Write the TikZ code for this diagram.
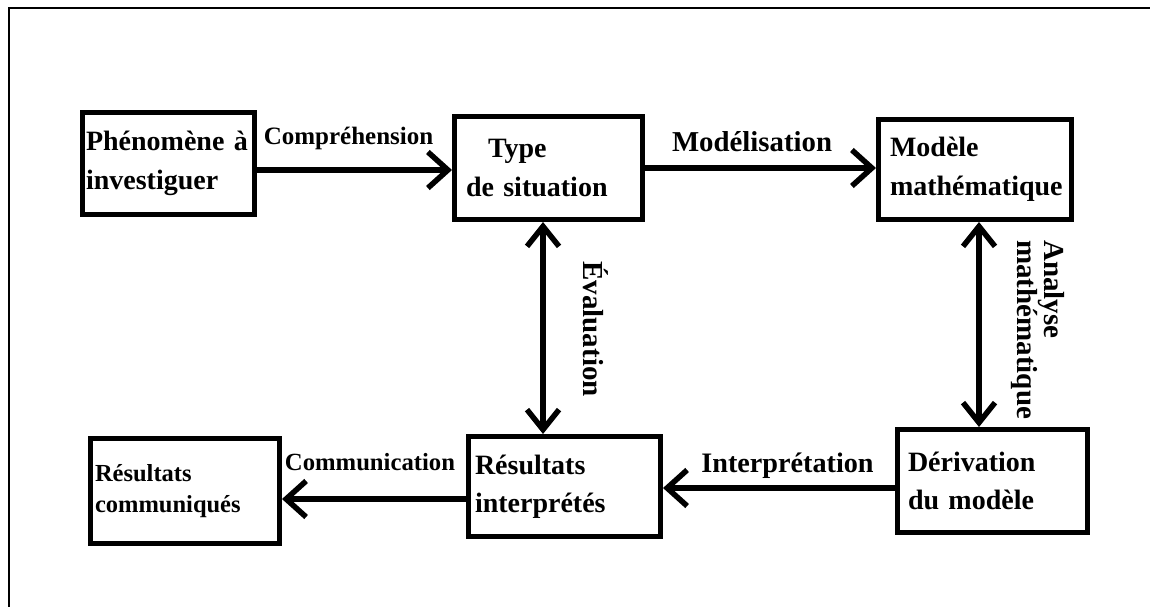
\documentclass[tikz,border=0pt]{standalone}
\usepackage{fontspec}
\setmainfont{Liberation Serif}
\usetikzlibrary{arrows.meta}
\begin{document}
\begin{tikzpicture}[x=1pt,y=-1pt,
  box/.style={draw, line width=5pt, rectangle, align=left, inner ysep=0pt,
    font=\bfseries\fontsize{28}{38.5}\selectfont},
  arr/.style={line width=5.5pt, -{Straight Barb[length=20pt,width=36pt]}},
  darr/.style={line width=5.5pt, {Straight Barb[length=20pt,width=32pt]}-{Straight Barb[length=20pt,width=32pt]}},
  lbl/.style={inner sep=0pt, anchor=base, font=\bfseries\fontsize{28}{30}\selectfont}]
\useasboundingbox[fill=white] (0,0) rectangle (1150,607);
\draw[line width=1.5pt] (9,607) -- (9,8) -- (1150,8);

% boxes
\node[box, minimum width=172pt, minimum height=102pt, inner xsep=3.5pt, text width=165pt] (b1) at (168.5,163.5) {Phénomène à\\investiguer};
\node[box, minimum width=188pt, minimum height=103pt, inner xsep=11.5pt, text width=165pt] (b2) at (548.5,168) {\hspace*{22pt}Type\\de situation};
\node[box, minimum width=193pt, minimum height=100pt, inner xsep=11.5pt, text width=170pt] (b3) at (975,169.5) {Modèle\\mathématique};
\node[box, minimum width=190pt, minimum height=103pt, inner xsep=10.5pt, text width=169pt] (b4) at (992.5,481) {Dérivation\\du modèle};
\node[box, minimum width=192pt, minimum height=100pt, inner xsep=6.5pt, text width=179pt] (b5) at (564.5,486.5) {Résultats\\interprétés};
\node[box, minimum width=189pt, minimum height=105pt, inner xsep=4.5pt, text width=180pt, font=\bfseries\fontsize{24.5}{31}\selectfont] (b6) at (185,491) {Résultats\\communiqués};

% connectors
\draw[arr] (b1.east |- 0,170) -- (b2.west |- 0,170);
\draw[arr] (b2.east |- 0,168) -- (b3.west |- 0,168);
\draw[darr] (b2.south -| 543,0) -- (b5.north -| 543,0);
\draw[darr] (b3.south -| 979,0) -- (b4.north -| 979,0);
\draw[arr] (b4.west |- 0,488) -- (b5.east |- 0,488);
\draw[arr] (b5.west |- 0,499) -- (b6.east |- 0,499);

% labels
\node[lbl, font=\bfseries\fontsize{25}{30}\selectfont] (lcomp) at (348.5,144) {Compréhension};
\node[lbl, font=\bfseries\fontsize{28.8}{30}\selectfont] (lmod) at (752,151) {Modélisation};
\node[lbl, font=\bfseries\fontsize{28.2}{30}\selectfont] (lint) at (787.5,472) {Interprétation};
\node[lbl, font=\bfseries\fontsize{24.7}{30}\selectfont] (lcom) at (370,470.5) {Communication};
\node[lbl, rotate=-90, font=\bfseries\fontsize{29}{30}\selectfont] (leval) at (583,329) {Évaluation};
\node[lbl, rotate=-90, anchor=north west, align=left, font=\bfseries\fontsize{29}{27}\selectfont] (lana) at (1065,240) {Analyse\\mathématique};
\end{tikzpicture}
\end{document}
